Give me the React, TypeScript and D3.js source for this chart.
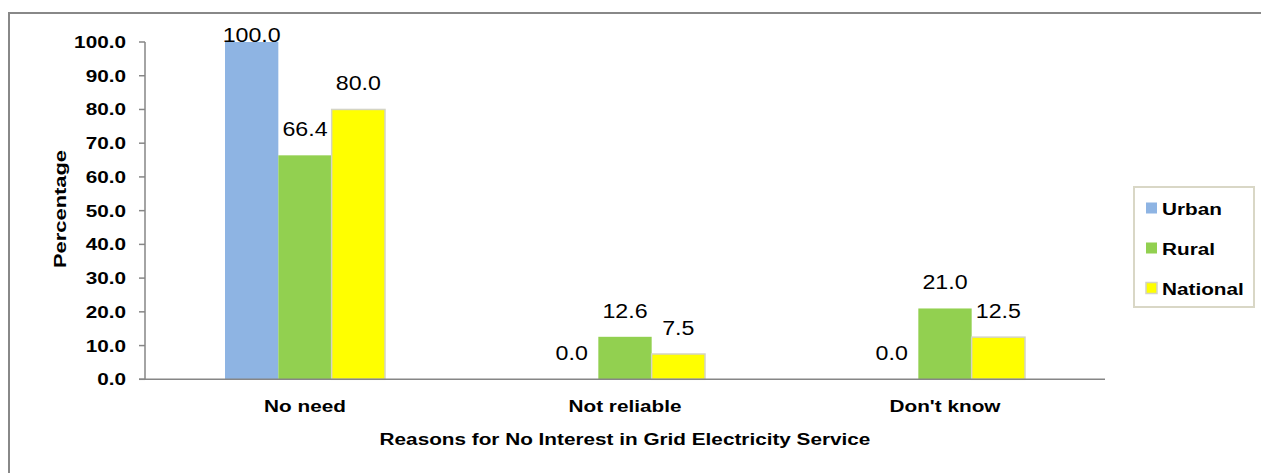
import React from "react";
import * as d3 from "d3";

const categories = ["No need", "Not reliable", "Don't know"];
const seriesNames = ["Urban", "Rural", "National"];
const urban = [100.0, 0.0, 0.0];
const rural = [66.4, 12.6, 21.0];
const national = [80.0, 7.5, 12.5];
const yTicks = [0, 10, 20, 30, 40, 50, 60, 70, 80, 90, 100];
const colors = ["#8EB4E3", "#92D050", "#FFFF00"];
const strokes = ["none", "none", "#D4D4C4"];

const W = 1261;
const H = 473;
const SX = 1.22;
const FONT = "'Liberation Sans', Arial, sans-serif";

export default function App() {
  const values = [urban, rural, national];
  const x0 = d3.scaleBand<string>().domain(categories).range([145, 1105]).paddingInner(0.5).paddingOuter(0.25);
  const x1 = d3.scaleBand<string>().domain(seriesNames).range([0, x0.bandwidth()]);
  const y = d3.scaleLinear().domain([0, 100]).range([379.3, 42]);

  return (
    <svg width={W} height={H} style={{ position: "absolute", left: 0, top: 0, background: "#fff" }}>
      <rect x={9} y={13} width={W} height={H} fill="#fff" stroke="#888" strokeWidth={2} />
      {/* bars */}
      {categories.map((c, ci) =>
        seriesNames.map((s, si) => {
          const v = values[si][ci];
          const bx = (x0(c) as number) + (x1(s) as number);
          const bw = x1.bandwidth();
          return (
            <g key={c + s}>
              {v > 0 && (
                <rect
                  x={bx}
                  y={y(v)}
                  width={bw}
                  height={y(0) - y(v)}
                  fill={colors[si]}
                  stroke={strokes[si]}
                  strokeWidth={strokes[si] === "none" ? 0 : 1.5}
                />
              )}
              <text
                transform={`translate(${bx + bw / 2},${Math.max(y(v) - 19, y(100))}) scale(1.16,1)`}
                textAnchor="middle"
                fontFamily={FONT}
                fontSize={20}
                fill="#000"
              >
                {v.toFixed(1)}
              </text>
            </g>
          );
        })
      )}
      {/* y axis */}
      <line x1={145} x2={145} y1={y(100)} y2={y(0)} stroke="#868686" strokeWidth={1.5} />
      {yTicks.map((t) => (
        <g key={t}>
          <line x1={139} x2={145} y1={y(t)} y2={y(t)} stroke="#868686" strokeWidth={1.5} />
          <text
            transform={`translate(126,${y(t) + 6}) scale(${SX},1)`}
            textAnchor="end"
            fontFamily={FONT}
            fontWeight="bold"
            fontSize={17}
            fill="#000"
          >
            {t.toFixed(1)}
          </text>
        </g>
      ))}
      {/* x axis */}
      <line x1={139} x2={1105} y1={y(0)} y2={y(0)} stroke="#868686" strokeWidth={1.5} />
      {categories.map((c) => (
        <text
          key={c}
          transform={`translate(${(x0(c) as number) + x0.bandwidth() / 2},412) scale(${SX},1)`}
          textAnchor="middle"
          fontFamily={FONT}
          fontWeight="bold"
          fontSize={17}
          fill="#000"
        >
          {c}
        </text>
      ))}
      <text
        transform={`translate(625,444.5) scale(${SX},1)`}
        textAnchor="middle"
        fontFamily={FONT}
        fontWeight="bold"
        fontSize={17}
        fill="#000"
      >
        Reasons for No Interest in Grid Electricity Service
      </text>
      <text
        transform={`translate(66,209) rotate(-90) scale(1.37,1)`}
        textAnchor="middle"
        fontFamily={FONT}
        fontWeight="bold"
        fontSize={16}
        fill="#000"
      >
        Percentage
      </text>
      {/* legend */}
      <rect x={1134} y={187} width={120} height={120} fill="#fff" stroke="#D9D7C6" strokeWidth={2} />
      {seriesNames.map((s, i) => {
        const cy = 208 + i * 40;
        return (
          <g key={s}>
            <rect
              x={1146}
              y={cy - 5.5}
              width={11}
              height={11}
              fill={colors[i]}
              stroke={strokes[i]}
              strokeWidth={strokes[i] === "none" ? 0 : 1.5}
            />
            <text
              transform={`translate(1162,${cy + 7}) scale(${SX},1)`}
              fontFamily={FONT}
              fontWeight="bold"
              fontSize={17}
              fill="#000"
            >
              {s}
            </text>
          </g>
        );
      })}
    </svg>
  );
}
